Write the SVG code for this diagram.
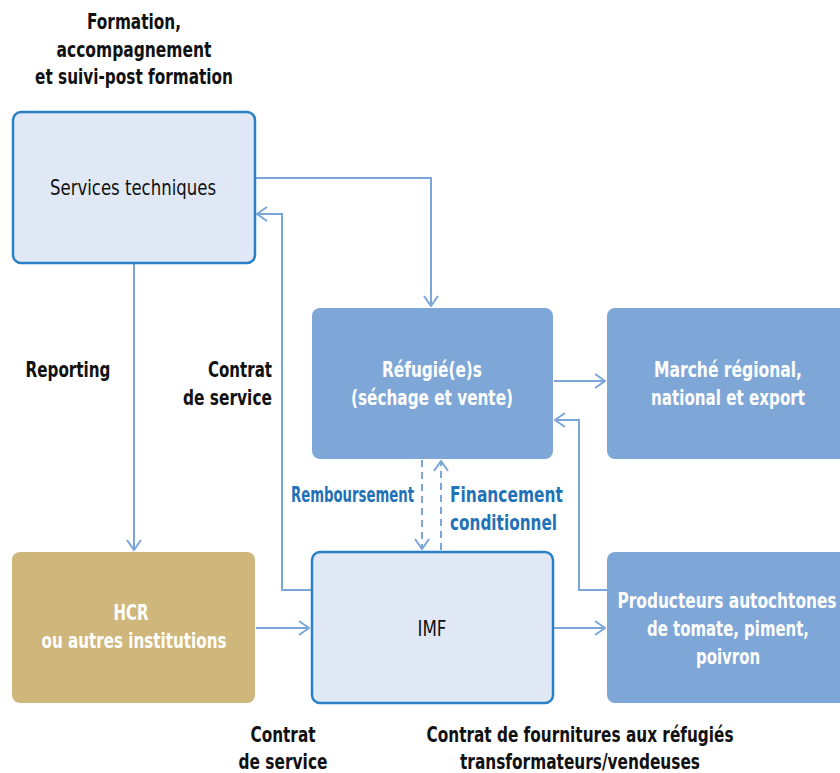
<svg xmlns="http://www.w3.org/2000/svg" width="840" height="773" viewBox="0 0 840 773">
<style>
text{font-family:"DejaVu Sans","Liberation Sans",sans-serif;font-size:22px;text-anchor:middle}
.b{font-weight:bold}
.w{fill:#ffffff;font-weight:bold}
.k{fill:#111111}
.bl{fill:#1f72b8;font-weight:bold}
.light{fill:#e0e8f5;stroke:#2a80c4;stroke-width:2.5}
.mid{fill:#7ea7d8}
.gold{fill:#cfb77b}
.c{fill:none;stroke:#7aa6d9;stroke-width:2}
.d{stroke-dasharray:7,5}
</style>
<defs>
<marker id="a" viewBox="0 0 12 16" refX="11" refY="8" markerWidth="12" markerHeight="16" markerUnits="userSpaceOnUse" orient="auto">
<path d="M1,1 L11,8 L1,15" fill="none" stroke="#7aa6d9" stroke-width="2"/>
</marker>
</defs>
<g id="connectors">
<path class="c" d="M256,178 H431 V306" marker-end="url(#a)"/>
<path class="c" d="M311,590 H282 V214 H257" marker-end="url(#a)"/>
<path class="c" d="M134,264 V550" marker-end="url(#a)"/>
<path class="c" d="M256,628 H309" marker-end="url(#a)"/>
<path class="c" d="M554,628 H605" marker-end="url(#a)"/>
<path class="c" d="M554,381 H605" marker-end="url(#a)"/>
<path class="c" d="M607,590 H579 V420 H555" marker-end="url(#a)"/>
<path class="c d" d="M422,460 V549" marker-end="url(#a)"/>
<path class="c d" d="M441,550 V461" marker-end="url(#a)"/>
</g>
<g id="label-formation">
<text class="b k" x="134" y="29" textLength="94" lengthAdjust="spacingAndGlyphs">Formation,</text>
<text class="b k" x="134" y="57" textLength="155" lengthAdjust="spacingAndGlyphs">accompagnement</text>
<text class="b k" x="134" y="84" textLength="198" lengthAdjust="spacingAndGlyphs">et suivi-post formation</text>
</g>
<g id="services">
<rect class="light" x="13" y="112" width="242" height="151" rx="8"/>
<text class="k" x="133" y="195" textLength="166" lengthAdjust="spacingAndGlyphs">Services techniques</text>
</g>
<g id="refugies">
<rect class="mid" x="312" y="308" width="241" height="151" rx="8"/>
<text class="w" x="432" y="377" textLength="100" lengthAdjust="spacingAndGlyphs">Réfugié(e)s</text>
<text class="w" x="432" y="405" textLength="162" lengthAdjust="spacingAndGlyphs">(séchage et vente)</text>
</g>
<g id="marche">
<rect class="mid" x="607" y="308" width="245" height="151" rx="8"/>
<text class="w" x="728" y="377" textLength="148" lengthAdjust="spacingAndGlyphs">Marché régional,</text>
<text class="w" x="728" y="405" textLength="154" lengthAdjust="spacingAndGlyphs">national et export</text>
</g>
<g id="hcr">
<rect class="gold" x="12" y="552" width="243" height="151" rx="8"/>
<text class="w" x="131" y="620" textLength="35" lengthAdjust="spacingAndGlyphs">HCR</text>
<text class="w" x="134" y="648" textLength="185" lengthAdjust="spacingAndGlyphs">ou autres institutions</text>
</g>
<g id="imf">
<rect class="light" x="312" y="552" width="241" height="151" rx="8"/>
<text class="k" x="432" y="636" textLength="29" lengthAdjust="spacingAndGlyphs">IMF</text>
</g>
<g id="producteurs">
<rect class="mid" x="607" y="552" width="245" height="151" rx="8"/>
<text class="w" x="727" y="608" textLength="219" lengthAdjust="spacingAndGlyphs">Producteurs autochtones</text>
<text class="w" x="728" y="636" textLength="162" lengthAdjust="spacingAndGlyphs">de tomate, piment,</text>
<text class="w" x="728" y="664" textLength="64" lengthAdjust="spacingAndGlyphs">poivron</text>
</g>
<g id="labels">
<text class="b k" x="68" y="377" textLength="85" lengthAdjust="spacingAndGlyphs">Reporting</text>
<text class="b k" x="272" y="377" style="text-anchor:end" textLength="64" lengthAdjust="spacingAndGlyphs">Contrat</text>
<text class="b k" x="272" y="405" style="text-anchor:end" textLength="89" lengthAdjust="spacingAndGlyphs">de service</text>
<text class="bl" x="414" y="502" style="text-anchor:end" textLength="123" lengthAdjust="spacingAndGlyphs">Remboursement</text>
<text class="bl" x="450" y="502" style="text-anchor:start" textLength="113" lengthAdjust="spacingAndGlyphs">Financement</text>
<text class="bl" x="450" y="530" style="text-anchor:start" textLength="107" lengthAdjust="spacingAndGlyphs">conditionnel</text>
<text class="b k" x="283" y="742" textLength="65" lengthAdjust="spacingAndGlyphs">Contrat</text>
<text class="b k" x="283" y="769" textLength="89" lengthAdjust="spacingAndGlyphs">de service</text>
<text class="b k" x="580" y="742" textLength="307" lengthAdjust="spacingAndGlyphs">Contrat de fournitures aux réfugiés</text>
<text class="b k" x="580" y="769" textLength="240" lengthAdjust="spacingAndGlyphs">transformateurs/vendeuses</text>
</g>
</svg>
